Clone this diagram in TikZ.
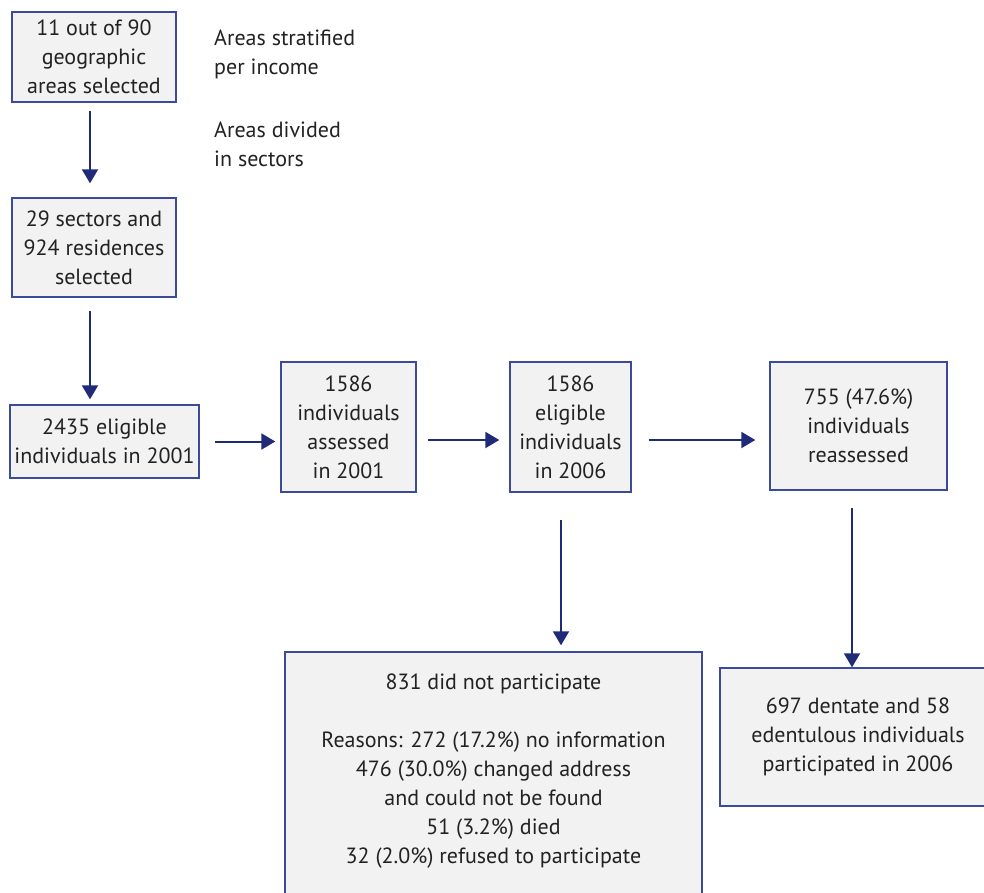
\documentclass[tikz,border=0pt]{standalone}
\usepackage{fontspec}
\setmainfont{PT Sans}
\usetikzlibrary{arrows.meta,calc}
\definecolor{boxline}{HTML}{3B4A99}
\definecolor{arrowcol}{HTML}{1F2A78}
\definecolor{boxfill}{HTML}{F2F2F2}
\definecolor{txt}{HTML}{222222}
\begin{document}
\begin{tikzpicture}[x=1pt,y=-1pt,
  every node/.style={text=txt,font=\fontsize{22}{29}\selectfont,align=center,inner sep=0pt},
  box/.style={draw=boxline,fill=boxfill,line width=1.4pt},
  conn/.style={draw=arrowcol,line width=2pt,-{Triangle[width=16pt,length=14pt]}},
  side/.style={anchor=north west,align=left}]
\useasboundingbox (0,0) rectangle (984,892);
\clip (0,0) rectangle (984,892);
% boxes
\node[box,minimum width=164pt,minimum height=90pt] (b1) at (94,57) {11 out of 90\\geographic\\areas selected};
\node[box,minimum width=164pt,minimum height=99pt] (b2) at (94,247.5) {29 sectors and\\924 residences\\selected};
\node[box,minimum width=189pt,minimum height=73pt] (b3) at (104.5,441.5) {2435 eligible\\individuals in 2001};
\node[box,minimum width=135pt,minimum height=130pt] (b4) at (348.5,427) {1586\\individuals\\assessed\\in 2001};
\node[box,minimum width=121pt,minimum height=130pt] (b5) at (570.5,427) {1586\\eligible\\individuals\\in 2006};
\node[box,minimum width=177pt,minimum height=128pt] (b6) at (858.5,426) {755 (47.6\%)\\individuals\\reassessed};
\node[box,minimum width=417pt,minimum height=248pt] (b7) at (493.5,776) {};
\node (b7t) at (493.5,771) {831 did not participate\\[29pt]Reasons: 272 (17.2\%) no information\\476 (30.0\%) changed address\\and could not be found\\51 (3.2\%) died\\32 (2.0\%) refused to participate};
\node[box,minimum width=276pt,minimum height=138pt] (b8) at (858,737) {697 dentate and 58\\edentulous individuals\\participated in 2006};
% side notes
\node[side] (n1) at (214,30) {Areas stratified\\per income};
\node[side] (n2) at (214,122) {Areas divided\\in sectors};
% rows
\coordinate (r2) at (0,440);
\coordinate (c1) at (90,0);
\coordinate (c7) at (561,0);
\coordinate (c8) at (852,0);
% connectors
\draw[conn,shorten <=8pt,shorten >=14pt] (b1.south -| c1) -- (b2.north -| c1);
\draw[conn,shorten <=13pt,shorten >=5pt] (b2.south -| c1) -- (b3.north -| c1);
\draw[conn,shorten <=15pt,shorten >=5pt] (b3.east) -- (b3.east -| b4.west);
\draw[conn,shorten <=11pt,shorten >=10pt] (b4.east |- r2) -- (b5.west |- r2);
\draw[conn,shorten <=17pt,shorten >=14pt] (b5.east |- r2) -- (b6.west |- r2);
\draw[conn,shorten <=27pt,shorten >=6pt] (b5.south -| c7) -- (b7.north -| c7);
\draw[conn,shorten <=17pt,shorten >=0pt] (b6.south -| c8) -- (b8.north -| c8);
\end{tikzpicture}
\end{document}
